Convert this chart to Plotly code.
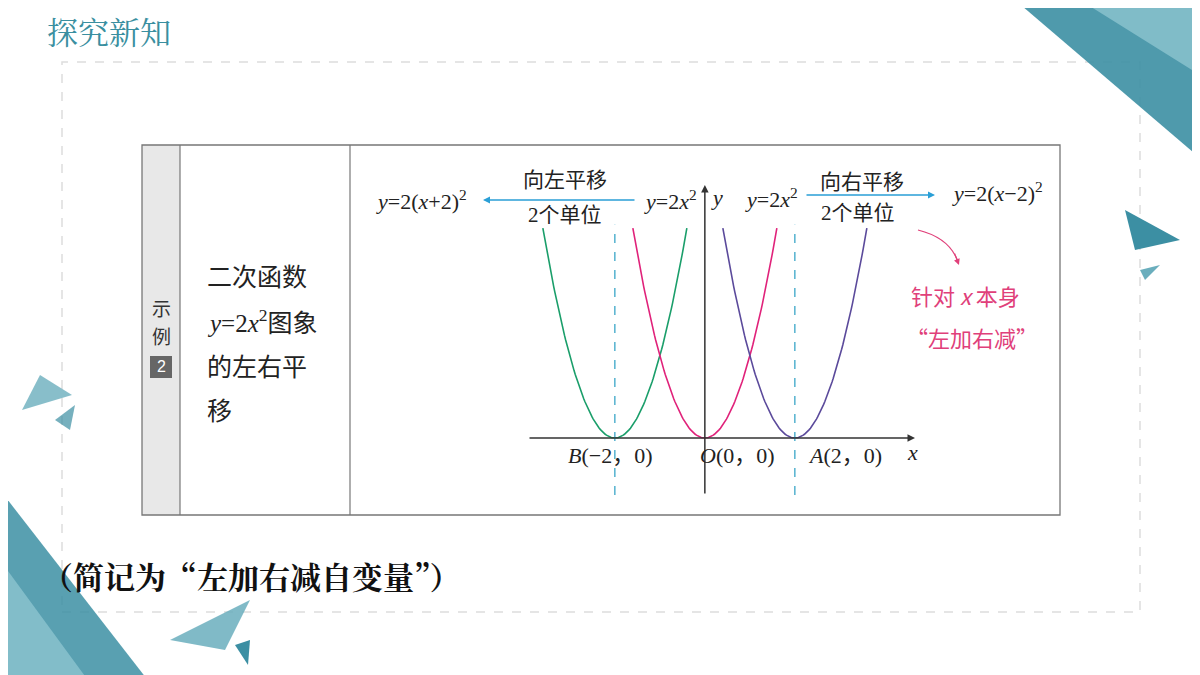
import numpy as np
import plotly.graph_objects as go

W, H = 1200, 675
shifts = [-2, 0, 2]
coef = 2
half_widths = [1.6, 1.6, 1.6]
colors = ["#1a9e6a", "#e0227a", "#5b4a9b"]
x_range = [-3.93, 4.67]
y_range = [-1.39, 6.17]

OFF = 8
def px(x): return (x - OFF) / W
def py(y): return 1 - (y - OFF) / H

fig = go.Figure()
for s, hw, c in zip(shifts, half_widths, colors):
    xs = np.linspace(s - hw, s + hw, 121)
    fig.add_trace(go.Scatter(x=xs, y=coef * (xs - s) ** 2, mode="lines",
                             line=dict(color=c, width=1.6), hoverinfo="skip", showlegend=False))

shapes = []
for s in [-2, 2]:
    shapes.append(dict(type="line", xref="x", yref="y", x0=s, x1=s, y0=y_range[0], y1=5.2,
                       line=dict(color="#3aa6c8", width=1.3, dash="dash")))
shapes.append(dict(type="rect", xref="paper", yref="paper", x0=px(62), x1=px(1140), y0=py(612), y1=py(62),
                   line=dict(color="#dddddd", width=1.5, dash="dash")))
shapes.append(dict(type="rect", xref="paper", yref="paper", x0=px(142), x1=px(180), y0=py(515), y1=py(145),
                   fillcolor="#e8e8e8", line=dict(width=0)))
shapes.append(dict(type="rect", xref="paper", yref="paper", x0=px(142), x1=px(1060), y0=py(515), y1=py(145),
                   line=dict(color="#777777", width=1.3)))
for xx in [180, 350]:
    shapes.append(dict(type="line", xref="paper", yref="paper", x0=px(xx), x1=px(xx), y0=py(515), y1=py(145),
                       line=dict(color="#777777", width=1.2)))
shapes.append(dict(type="rect", xref="paper", yref="paper", x0=px(150), x1=px(172), y0=py(378), y1=py(356),
                   fillcolor="#666666", line=dict(width=0)))
def tri(pts, color, op=1.0):
    d = "M " + " L ".join(f"{px(a)},{py(b)}" for a, b in pts) + " Z"
    shapes.append(dict(type="path", xref="paper", yref="paper", path=d, fillcolor=color,
                       line=dict(width=0), opacity=op))
tri([(1015, 0), (1208, 0), (1208, 165)], "#3c8fa3", 0.9)
tri([(1080, 0), (1208, 0), (1208, 80)], "#8cc4d0", 0.8)
tri([(1125, 210), (1180, 240), (1135, 250)], "#3c8fa3")
tri([(1140, 270), (1160, 265), (1145, 280)], "#6aaebd")
tri([(22, 410), (40, 375), (72, 395)], "#6aaebd", 0.8)
tri([(55, 420), (75, 405), (70, 430)], "#3c8fa3", 0.7)
tri([(0, 490), (0, 683), (150, 683)], "#3c8fa3", 0.85)
tri([(0, 560), (0, 683), (90, 683)], "#8cc4d0", 0.8)
tri([(170, 640), (250, 600), (225, 650)], "#6aaebd", 0.85)
tri([(235, 645), (250, 640), (248, 665)], "#3c8fa3")
shapes.append(dict(type="path", xref="paper", yref="paper",
                   path=f"M {px(918)},{py(230)} Q {px(950)},{py(238)} {px(958)},{py(262)}",
                   line=dict(color="#e0407a", width=1.2)))
fig.update_layout(shapes=shapes)

serif = "Liberation Serif, serif"
cjk = "Noto Sans CJK SC"
anns = []
def txt(x, y, t, size=20, color="#222", font=serif, xanchor="center"):
    anns.append(dict(xref="paper", yref="paper", x=px(x), y=py(y), text=t, showarrow=False,
                     font=dict(size=size, color=color, family=font), xanchor=xanchor, yanchor="middle"))
def parrow(x0, y0, x1, y1, color, width=1.4, head=2):
    anns.append(dict(xref="paper", yref="paper", axref="pixel", ayref="pixel", x=px(x1), y=py(y1),
                     ax=x0 - x1, ay=y0 - y1, showarrow=True, arrowhead=head, arrowwidth=width,
                     arrowcolor=color, text=""))
def darrow(x0, y0, x1, y1, color, width=1.5, head=2):
    anns.append(dict(xref="x", yref="y", axref="x", ayref="y", x=x1, y=y1, ax=x0, ay=y0,
                     showarrow=True, arrowhead=head, arrowwidth=width, arrowcolor=color, text=""))

darrow(x_range[0], 0, x_range[1], 0, "#333")
darrow(0, y_range[0], 0, y_range[1], "#333")
parrow(636, 200, 483, 200, "#2a9fd6")
parrow(805, 195, 935, 195, "#2a9fd6")
parrow(954, 252, 959, 265, "#e0407a", width=1.2)

txt(45, 31, "探究新知", 31, "#3a8fa0", "Noto Serif CJK SC, Noto Sans CJK SC", "left")
txt(422, 200, "<i>y</i>=2(<i>x</i>+2)<sup>2</sup>", 22)
txt(565, 178, "向左平移", 21, "#222", cjk)
txt(565, 215, "2个单位", 21, "#222", serif + ", " + cjk)
txt(670, 200, "<i>y</i>=2<i>x</i><sup>2</sup>", 22)
txt(717, 198, "<i>y</i>", 22)
txt(771, 198, "<i>y</i>=2<i>x</i><sup>2</sup>", 22)
txt(862, 180, "向右平移", 21, "#222", cjk)
txt(858, 213, "2个单位", 21, "#222", serif + ", " + cjk)
txt(997, 192, "<i>y</i>=2(<i>x</i>−2)<sup>2</sup>", 22)
txt(610, 455, "<i>B</i>(−2，0)", 22, "#222", serif + ", " + cjk)
txt(738, 455, "<i>O</i>(0，0)", 22, "#222", serif + ", " + cjk)
txt(845, 455, "<i>A</i>(2，0)", 22, "#222", serif + ", " + cjk)
txt(912, 452, "<i>x</i>", 22)
txt(965, 295, "针对 <i>x</i> 本身", 22, "#e0407a", cjk)
txt(972, 337, "“左加右减”", 22, "#e0407a", cjk)
txt(161, 307, "示", 19, "#333", cjk)
txt(161, 336, "例", 19, "#333", cjk)
txt(161, 367, "2", 16, "#ffffff", "Liberation Sans")
txt(205, 275, "二次函数", 25, "#222", cjk, "left")
txt(205, 321, "<i>y</i>=2<i>x</i><sup>2</sup>图象", 25, "#222", serif + ", " + cjk, "left")
txt(205, 365, "的左右平", 25, "#222", cjk, "left")
txt(205, 409, "移", 25, "#222", cjk, "left")
txt(40, 575, "<b>（简记为“左加右减自变量”）</b>", 31, "#111", "Noto Serif CJK SC, " + cjk, "left")
fig.update_layout(annotations=anns)

fig.update_layout(width=W, height=H, margin=dict(l=0, r=0, t=0, b=0),
                  paper_bgcolor="white", plot_bgcolor="rgba(0,0,0,0)",
                  xaxis=dict(domain=[px(528), px(915)], range=x_range, visible=False),
                  yaxis=dict(domain=[py(495), py(185)], range=y_range, visible=False))
fig.write_html("out.html")
